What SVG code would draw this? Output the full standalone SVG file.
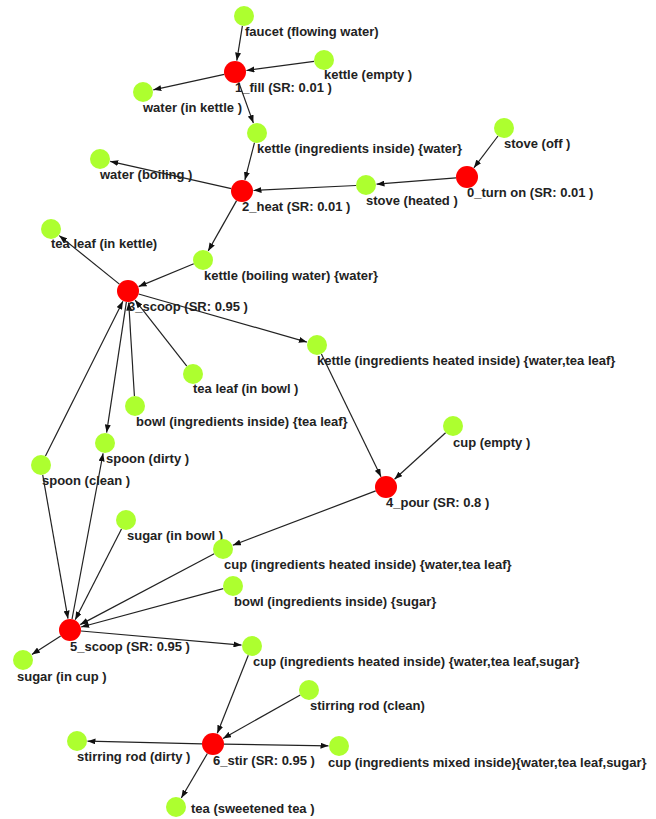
<svg xmlns="http://www.w3.org/2000/svg" width="656" height="819" viewBox="0 0 656 819">
<defs>
<style>
.g{fill:#adff2f}
.r{fill:#ff0000}
.lb{font-family:"Liberation Sans",Arial,sans-serif;font-size:13px;font-weight:bold;fill:#222}
.e line{stroke:#222;stroke-width:1.2;marker-end:url(#arr)}
</style>
<marker id="arr" viewBox="0 0 10 10" refX="10" refY="5" markerWidth="8" markerHeight="6" markerUnits="userSpaceOnUse" orient="auto" preserveAspectRatio="none"><path d="M0,0 L10,5 L0,10 z" fill="#111"/></marker>
</defs>
<rect width="656" height="819" fill="#fff"/>
<g id="edges" class="e">
<line x1="242.4" y1="25.9" x2="236.8" y2="60.6"/>
<line x1="314.1" y1="61.3" x2="246.4" y2="70.5"/>
<line x1="224.3" y1="74.3" x2="153.3" y2="89.8"/>
<line x1="238.7" y1="82.3" x2="253.4" y2="123.1"/>
<line x1="254.5" y1="142.7" x2="244.9" y2="179.9"/>
<line x1="231.3" y1="188.6" x2="110.2" y2="161.3"/>
<line x1="498.0" y1="136.0" x2="473.9" y2="167.8"/>
<line x1="456.0" y1="177.9" x2="376.5" y2="184.2"/>
<line x1="356.0" y1="185.5" x2="253.5" y2="190.4"/>
<line x1="236.6" y1="200.6" x2="208.2" y2="250.9"/>
<line x1="193.8" y1="263.8" x2="138.6" y2="286.6"/>
<line x1="119.4" y1="284.1" x2="59.2" y2="235.6"/>
<line x1="138.6" y1="294.0" x2="306.9" y2="342.1"/>
<line x1="186.8" y1="366.1" x2="135.1" y2="300.1"/>
<line x1="134.4" y1="396.0" x2="128.7" y2="302.5"/>
<line x1="126.4" y1="301.9" x2="106.6" y2="432.6"/>
<line x1="45.5" y1="456.1" x2="122.9" y2="301.3"/>
<line x1="321.4" y1="354.0" x2="381.0" y2="476.7"/>
<line x1="445.6" y1="432.7" x2="394.5" y2="479.3"/>
<line x1="375.7" y1="490.9" x2="232.8" y2="545.3"/>
<line x1="42.7" y1="474.9" x2="68.0" y2="618.7"/>
<line x1="72.0" y1="619.2" x2="103.1" y2="453.3"/>
<line x1="121.5" y1="528.9" x2="75.2" y2="619.8"/>
<line x1="214.2" y1="553.7" x2="80.2" y2="624.6"/>
<line x1="223.3" y1="588.6" x2="81.1" y2="627.0"/>
<line x1="60.7" y1="635.9" x2="31.9" y2="654.4"/>
<line x1="81.0" y1="631.0" x2="241.5" y2="645.1"/>
<line x1="248.3" y1="655.3" x2="217.3" y2="733.3"/>
<line x1="300.3" y1="694.9" x2="223.0" y2="738.4"/>
<line x1="202.0" y1="743.8" x2="87.5" y2="741.2"/>
<line x1="224.0" y1="744.2" x2="328.5" y2="745.8"/>
<line x1="207.4" y1="753.5" x2="181.3" y2="798.0"/>
</g>
<g id="n_faucet"><circle class="g" cx="244" cy="16" r="10"/><text class="lb" x="245" y="36">faucet (flowing water)</text></g>
<g id="n_fill"><circle class="r" cx="235" cy="72" r="11"/><text class="lb" x="235" y="92">1_fill (SR: 0.01 )</text></g>
<g id="n_kettle_empty"><circle class="g" cx="324" cy="60" r="10"/><text class="lb" x="324" y="79">kettle (empty )</text></g>
<g id="n_water_in_kettle"><circle class="g" cx="143" cy="92" r="10"/><text class="lb" x="143" y="112">water (in kettle )</text></g>
<g id="n_kettle_water"><circle class="g" cx="257" cy="133" r="10"/><text class="lb" x="257" y="153">kettle (ingredients inside) {water}</text></g>
<g id="n_water_boiling"><circle class="g" cx="100" cy="159" r="10"/><text class="lb" x="100" y="179">water (boiling )</text></g>
<g id="n_heat"><circle class="r" cx="242" cy="191" r="11"/><text class="lb" x="242" y="211">2_heat (SR: 0.01 )</text></g>
<g id="n_stove_heated"><circle class="g" cx="366" cy="185" r="10"/><text class="lb" x="366" y="205">stove (heated )</text></g>
<g id="n_turn_on"><circle class="r" cx="467" cy="177" r="11"/><text class="lb" x="467" y="197">0_turn on (SR: 0.01 )</text></g>
<g id="n_stove_off"><circle class="g" cx="504" cy="128" r="10"/><text class="lb" x="504" y="148">stove (off )</text></g>
<g id="n_tea_leaf_kettle"><circle class="g" cx="51" cy="229" r="10"/><text class="lb" x="51" y="248">tea leaf (in kettle)</text></g>
<g id="n_kettle_boiling"><circle class="g" cx="203" cy="260" r="10"/><text class="lb" x="204" y="280">kettle (boiling water) {water}</text></g>
<g id="n_scoop3"><circle class="r" cx="128" cy="291" r="11"/><text class="lb" x="128" y="311">3_scoop (SR: 0.95 )</text></g>
<g id="n_kettle_heated_wt"><circle class="g" cx="317" cy="345" r="10"/><text class="lb" x="317" y="365">kettle (ingredients heated inside) {water,tea leaf}</text></g>
<g id="n_tea_leaf_bowl"><circle class="g" cx="193" cy="374" r="10"/><text class="lb" x="193" y="393">tea leaf (in bowl )</text></g>
<g id="n_bowl_tea"><circle class="g" cx="135" cy="406" r="10"/><text class="lb" x="136" y="426">bowl (ingredients inside) {tea leaf}</text></g>
<g id="n_spoon_dirty"><circle class="g" cx="105" cy="443" r="10"/><text class="lb" x="106" y="463">spoon (dirty )</text></g>
<g id="n_spoon_clean"><circle class="g" cx="41" cy="465" r="10"/><text class="lb" x="42" y="485">spoon (clean )</text></g>
<g id="n_cup_empty"><circle class="g" cx="453" cy="426" r="10"/><text class="lb" x="453" y="447">cup (empty )</text></g>
<g id="n_pour"><circle class="r" cx="386" cy="487" r="11"/><text class="lb" x="386" y="507">4_pour (SR: 0.8 )</text></g>
<g id="n_sugar_bowl"><circle class="g" cx="126" cy="520" r="10"/><text class="lb" x="127" y="540">sugar (in bowl )</text></g>
<g id="n_cup_heated_wt"><circle class="g" cx="223" cy="549" r="10"/><text class="lb" x="224" y="569">cup (ingredients heated inside) {water,tea leaf}</text></g>
<g id="n_bowl_sugar"><circle class="g" cx="233" cy="586" r="10"/><text class="lb" x="234" y="606">bowl (ingredients inside) {sugar}</text></g>
<g id="n_scoop5"><circle class="r" cx="70" cy="630" r="11"/><text class="lb" x="70" y="651">5_scoop (SR: 0.95 )</text></g>
<g id="n_sugar_cup"><circle class="g" cx="23" cy="660" r="10"/><text class="lb" x="17" y="681">sugar (in cup )</text></g>
<g id="n_cup_wts"><circle class="g" cx="252" cy="646" r="10"/><text class="lb" x="253" y="666">cup (ingredients heated inside) {water,tea leaf,sugar}</text></g>
<g id="n_rod_clean"><circle class="g" cx="309" cy="690" r="10"/><text class="lb" x="310" y="710">stirring rod (clean)</text></g>
<g id="n_rod_dirty"><circle class="g" cx="77" cy="741" r="10"/><text class="lb" x="77" y="761">stirring rod (dirty )</text></g>
<g id="n_stir"><circle class="r" cx="213" cy="744" r="11"/><text class="lb" x="213" y="765">6_stir (SR: 0.95 )</text></g>
<g id="n_cup_mixed"><circle class="g" cx="339" cy="746" r="10"/><text class="lb" x="328" y="767">cup (ingredients mixed inside){water,tea leaf,sugar}</text></g>
<g id="n_tea"><circle class="g" cx="176" cy="807" r="10"/><text class="lb" x="191" y="813">tea (sweetened tea )</text></g>
</svg>
